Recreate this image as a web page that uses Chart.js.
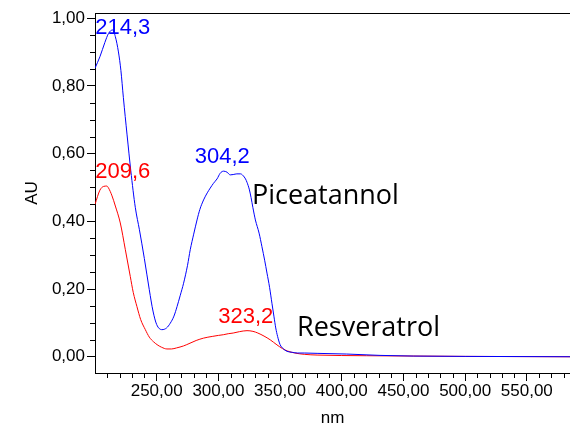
<!DOCTYPE html>
<html>
<head>
<meta charset="utf-8">
<script src="https://cdn.jsdelivr.net/npm/chart.js@4/dist/chart.umd.min.js"></script>
<style>
  html, body { margin: 0; padding: 0; background: #fff; }
  #wrap { width: 570px; height: 427px; position: relative; }
</style>
</head>
<body>
<div id="wrap"><canvas id="uv-chart"></canvas></div>
<script>
// UV spectra: Piceatannol (blue) and Resveratrol (red)

// Piceatannol spectrum
const piceatannolNm = [200, 204, 208, 211, 214.3, 216.5, 219, 221, 223, 226, 229, 232.7, 236, 240, 244, 247, 250, 254.3, 258, 261, 264, 266.5, 269, 271.8, 275, 277.2, 280, 282.7, 285, 288, 291, 293.4, 296, 298.9, 301.5, 304.2, 307, 309.6, 312, 315, 318, 320, 322, 323.2, 325, 326.5, 328, 330, 333, 335.3, 337.5, 339.4, 341.5, 343.4, 345, 346.5, 348, 350, 352.5, 355.6, 360, 364, 370, 380, 404, 431, 458, 500, 585];
const piceatannolAU = [0.852, 0.886, 0.928, 0.955, 0.965, 0.945, 0.900, 0.845, 0.765, 0.655, 0.550, 0.440, 0.375, 0.290, 0.198, 0.135, 0.095, 0.080, 0.085, 0.099, 0.120, 0.148, 0.180, 0.217, 0.270, 0.316, 0.362, 0.404, 0.435, 0.463, 0.484, 0.498, 0.512, 0.525, 0.542, 0.548, 0.545, 0.537, 0.538, 0.540, 0.540, 0.535, 0.525, 0.515, 0.495, 0.470, 0.440, 0.404, 0.365, 0.325, 0.285, 0.247, 0.205, 0.158, 0.120, 0.085, 0.060, 0.036, 0.024, 0.016, 0.013, 0.011, 0.011, 0.010, 0.008, 0.004, 0.002, 0.001, 0.000];

// Resveratrol spectrum
const resveratrolNm = [200, 204, 207, 209.6, 211, 213.8, 216.5, 220.5, 224.6, 228.6, 231, 234, 237, 240.8, 244, 247.5, 251, 254, 258.3, 262, 266, 271.8, 277, 282, 288, 295, 300, 304, 308, 312, 317, 323.2, 328, 332, 337, 342, 347.5, 352, 356, 362, 370, 380, 420, 500, 585];
const resveratrolAU = [0.450, 0.492, 0.503, 0.504, 0.498, 0.475, 0.445, 0.395, 0.316, 0.237, 0.190, 0.148, 0.110, 0.080, 0.058, 0.044, 0.034, 0.028, 0.023, 0.023, 0.026, 0.032, 0.040, 0.048, 0.055, 0.060, 0.063, 0.065, 0.068, 0.070, 0.074, 0.077, 0.075, 0.070, 0.061, 0.050, 0.035, 0.024, 0.017, 0.011, 0.007, 0.005, 0.003, 0.001, 0.000];

// Peak labels and compound names (anchored in data units)
const peakTexts = ['214,3', '209,6', '304,2', '323,2'];
const peakX = [200.2, 200.2, 303.2, 322.2];
const peakY = [0.954, 0.527, 0.572, 0.099];
const peakColors = ['#0000ff', '#ff0000', '#0000ff', '#ff0000'];
const peakAlign = ['left', 'left', 'center', 'center'];

const nameTexts = ['Piceatannol', 'Resveratrol'];
const nameX = [327.2, 363.7];
const nameY = [0.451, 0.062];

// Axis ranges and tick steps
const xMin = 200, xMax = 585, xStep = 10, xMajor = 50;
const yMin = -0.048, yMax = 1.015, yStep = 0.05, yMajor = 0.2;

function isMultiple(v, step) {
  const r = v / step;
  return Math.abs(r - Math.round(r)) < 1e-6;
}

function isXMajor(v) {
  return isMultiple(v, xMajor) && v >= 250 && v <= 550;
}

function isYMajor(v) {
  return isMultiple(v, yMajor) && v > -1e-9 && v < 1 + 1e-9;
}

function fmt(v) {
  return Math.abs(v).toFixed(2).replace('.', ',');
}

Chart.defaults.font.family = '"Liberation Sans", Arial, sans-serif';
Chart.defaults.font.size = 17;
Chart.defaults.color = '#000';

// Top border, minor ticks and text labels
const extrasPlugin = {
  id: 'extras',
  afterDraw(chart) {
    const ctx = chart.ctx;
    const area = chart.chartArea;
    const xs = chart.scales.x;
    const ys = chart.scales.y;

    ctx.save();
    ctx.strokeStyle = '#000';
    ctx.lineWidth = 1;

    // top frame line
    ctx.beginPath();
    ctx.moveTo(area.left, area.top + 0.5);
    ctx.lineTo(area.right, area.top + 0.5);
    ctx.stroke();

    // minor ticks
    ctx.beginPath();
    xs.ticks.forEach(t => {
      if (isMultiple(t.value, xStep) && !isMultiple(t.value, xMajor) && t.value > xMin) {
        const px = Math.round(xs.getPixelForValue(t.value)) + 0.5;
        ctx.moveTo(px, area.bottom);
        ctx.lineTo(px, area.bottom + 5);
      }
    });
    ys.ticks.forEach(t => {
      if (isMultiple(t.value, yStep) && !isYMajor(t.value) && t.value > yMin && t.value < yMax) {
        const py = Math.round(ys.getPixelForValue(t.value)) + 0.5;
        ctx.moveTo(area.left, py);
        ctx.lineTo(area.left - 5, py);
      }
    });
    ctx.stroke();

    // peak labels
    ctx.textBaseline = 'alphabetic';
    ctx.font = '22px "Liberation Sans", Arial, sans-serif';
    peakTexts.forEach((txt, i) => {
      ctx.fillStyle = peakColors[i];
      ctx.textAlign = peakAlign[i];
      ctx.fillText(txt, xs.getPixelForValue(peakX[i]), ys.getPixelForValue(peakY[i]));
    });

    // compound names
    ctx.font = '27px "Open Sans", sans-serif';
    ctx.fillStyle = '#000';
    ctx.textAlign = 'left';
    nameTexts.forEach((txt, i) => {
      ctx.fillText(txt, xs.getPixelForValue(nameX[i]), ys.getPixelForValue(nameY[i]));
    });
    ctx.restore();
  }
};

function toPoints(xArr, yArr) {
  return xArr.map((x, i) => ({ x: x, y: yArr[i] }));
}

const ctx = document.getElementById('uv-chart').getContext('2d');
const uvChart = new Chart(ctx, {
  type: 'line',
  data: {
    datasets: [
      {
        label: 'Piceatannol',
        data: toPoints(piceatannolNm, piceatannolAU),
        borderColor: '#0000ff',
        borderWidth: 1,
        pointRadius: 0,
        fill: false,
        cubicInterpolationMode: 'monotone'
      },
      {
        label: 'Resveratrol',
        data: toPoints(resveratrolNm, resveratrolAU),
        borderColor: '#ff0000',
        borderWidth: 1,
        pointRadius: 0,
        fill: false,
        cubicInterpolationMode: 'monotone'
      }
    ]
  },
  options: {
    responsive: true,
    maintainAspectRatio: false,
    animation: false,
    layout: { padding: { top: 13, right: 0, left: 0, bottom: 0 } },
    plugins: {
      legend: { display: false },
      tooltip: { enabled: false }
    },
    scales: {
      x: {
        type: 'linear',
        min: xMin,
        max: xMax,
        border: { color: '#000', width: 1 },
        grid: {
          drawOnChartArea: false,
          tickLength: 8,
          tickColor: c => (c.tick && isXMajor(c.tick.value)) ? '#000' : 'rgba(0,0,0,0)'
        },
        ticks: {
          stepSize: xStep,
          includeBounds: false,
          autoSkip: false,
          maxRotation: 0,
          padding: 0,
          callback: v => isXMajor(v) ? fmt(v) : ''
        },
        title: {
          display: true,
          text: 'nm',
          font: { size: 17, lineHeight: 1 },
          padding: { top: 0, bottom: 0 }
        },
        afterFit: s => { s.height = 54; }
      },
      y: {
        min: yMin,
        max: yMax,
        border: { color: '#000', width: 1 },
        grid: {
          drawOnChartArea: false,
          tickLength: 8,
          tickColor: c => (c.tick && isYMajor(c.tick.value)) ? '#000' : 'rgba(0,0,0,0)'
        },
        ticks: {
          stepSize: yStep,
          includeBounds: false,
          autoSkip: false,
          padding: 2,
          callback: v => isYMajor(v) ? fmt(v) : ''
        },
        title: {
          display: true,
          text: 'AU',
          font: { size: 17, lineHeight: 1 },
          padding: { top: 24, bottom: 24 }
        },
        afterFit: s => { s.width = 95; }
      }
    }
  },
  plugins: [extrasPlugin]
});
</script>
</body>
</html>
